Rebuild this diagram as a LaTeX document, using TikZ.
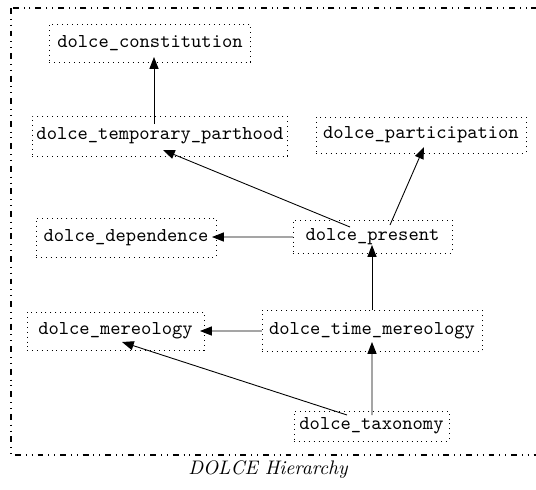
\documentclass[tikz,border=0pt]{standalone}
\usetikzlibrary{calc,arrows.meta}
\newdimen\upx \upx=0.51pt
\begin{document}
\begin{tikzpicture}[x=0.51pt,y=-0.51pt,
  nb/.style={draw,dotted,line width=0.5pt,inner sep=0pt,font=\ttfamily},
  arr/.style={-{Triangle[length=6pt,width=4.6pt]},line width=0.45pt},
  frame/.style={line width=0.6pt,dash pattern=on 3pt off 2.5pt on 0.5pt off 2.5pt on 0.5pt off 2.5pt}]
\useasboundingbox (0,0) rectangle (536,489);
\draw[frame] (11,8) rectangle (560,455);
\node[nb,minimum width=201\upx,minimum height=38\upx] (co) at (150,43) {dolce\_constitution};
\node[nb,minimum width=255\upx,minimum height=40\upx] (tp) at (160,136) {dolce\_temporary\_parthood};
\node[nb,minimum width=210\upx,minimum height=36\upx] (pa) at (421,135) {dolce\_participation};
\node[nb,minimum width=180\upx,minimum height=39\upx] (de) at (126,237.5) {dolce\_dependence};
\node[nb,minimum width=159\upx,minimum height=33\upx] (pr) at (372.5,236.5) {dolce\_present};
\node[nb,minimum width=177\upx,minimum height=38\upx] (me) at (115.5,331) {dolce\_mereology};
\node[nb,minimum width=220\upx,minimum height=41\upx] (tm) at (372,330.5) {dolce\_time\_mereology};
\node[nb,minimum width=155\upx,minimum height=30\upx] (ta) at (371.5,426) {dolce\_taxonomy};
\node[font=\itshape] (cap) at (268,470) {DOLCE Hierarchy};
\draw[arr] ($(tp)+(-6,-12)$) -- ($(co)+(4,14)$);
\draw[arr] ($(pr)+(-22.5,-9.5)$) -- ($(tp)+(3,14)$);
\draw[arr] ($(pr)+(17.5,-11.5)$) -- ($(pa)+(3,12)$);
\draw[arr] ($(pr)+(-79.5,0.5)$) -- ($(de)+(86,-0.5)$);
\draw[arr] ($(tm)+(0,-20.5)$) -- ($(pr)+(-0.5,8.5)$);
\draw[arr] ($(tm)+(-110,0.5)$) -- ($(me)+(84.5,0)$);
\draw[arr] ($(ta)+(0.5,-11)$) -- ($(tm)+(0,11.5)$);
\draw[arr] ($(ta)+(-24.5,-11)$) -- ($(me)+(6.5,11)$);
\end{tikzpicture}
\end{document}
